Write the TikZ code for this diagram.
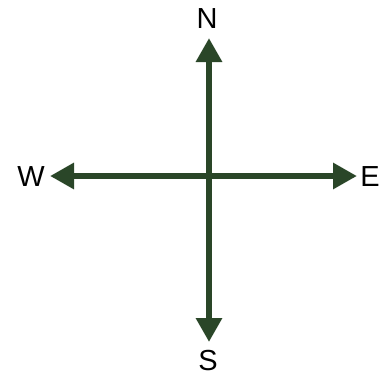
\documentclass[tikz,border=0pt]{standalone}
\usepackage{fontspec}
\setmainfont{Liberation Sans}
\usetikzlibrary{arrows.meta}
\definecolor{arrowgreen}{RGB}{42,70,40}
\tikzset{
  compass/.style={draw=arrowgreen, line width=6pt, {Triangle[length=24pt,width=25pt,fill=arrowgreen]}-{Triangle[length=24pt,width=25pt,fill=arrowgreen]}},
  dirlabel/.style={inner sep=0pt, font=\fontsize{29}{32}\selectfont, text=black}
}
\begin{document}
\begin{tikzpicture}[x=1pt,y=-1pt]
\useasboundingbox (0,0) rectangle (384,376);
\coordinate (nt) at (209,38);
\coordinate (st) at (209,342);
\coordinate (wt) at (50,176);
\coordinate (et) at (357,176);
\node[dirlabel] (n) at (207,19) {N};
\node[dirlabel] (s) at (208,361) {S};
\node[dirlabel] (w) at (31,177) {W};
\node[dirlabel] (e) at (370,177) {E};
\draw[compass] (st) -- (nt);
\draw[compass] (wt) -- (et);
\end{tikzpicture}
\end{document}
